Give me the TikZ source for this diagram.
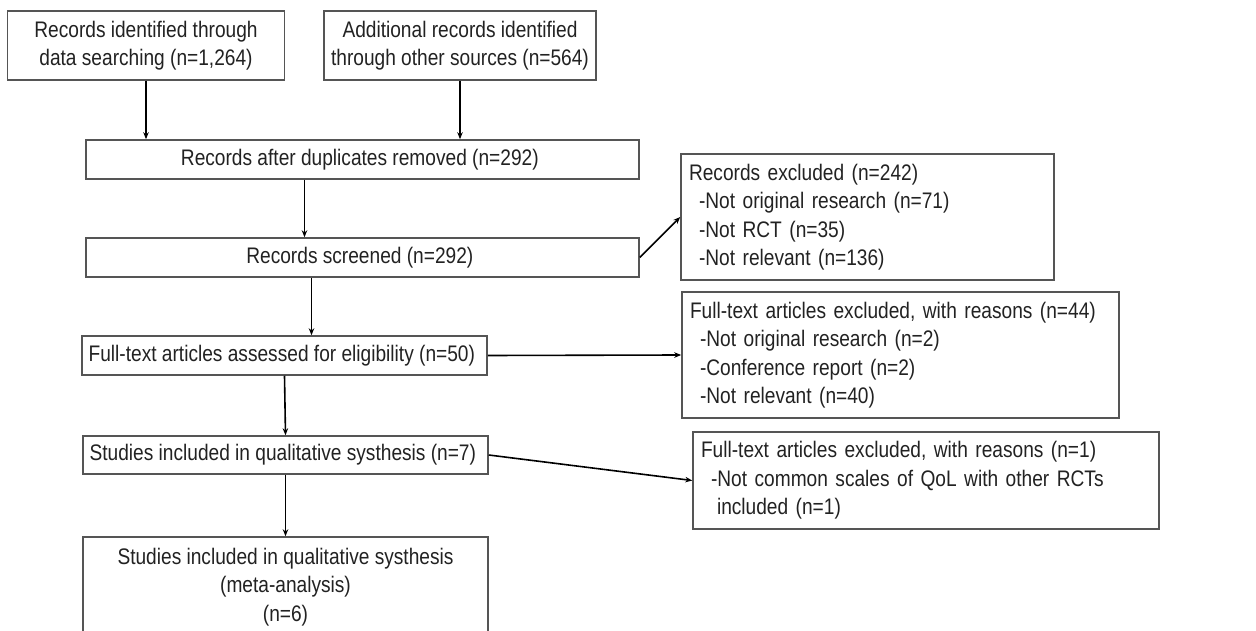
\documentclass[tikz,border=0pt]{standalone}
\usepackage{fontspec}
\setmainfont{Liberation Sans}[FakeStretch=0.85]
\usepackage{xcolor}
\usepackage{tikz}
\usetikzlibrary{arrows.meta,positioning,calc}
\definecolor{boxline}{HTML}{555555}
\definecolor{txtgray}{HTML}{222222}

\begin{document}
\begin{tikzpicture}[
  x=1pt, y=-1pt,
  box/.style={
    draw=boxline,
    line width=1.5pt,
    inner xsep=3pt,
    inner ysep=0pt,
    align=center,
    text=txtgray,
    font=\fontsize{22.5}{28.5}\selectfont
  },
  exbox/.style={box, align=left, inner xsep=8pt},
  arr/.style={-{Stealth[length=7pt,width=5.5pt]}, line width=1.6pt, draw=black}
]
\useasboundingbox (0,0) rectangle (1256,631);

\node[box, minimum width=277pt, minimum height=69pt] (ident) at (146, 45.5) {
  Records identified through\\
  data searching (n=1,264)
};

\node[box, minimum width=272pt, minimum height=69pt] (other) at (460, 45.5) {
  Additional records identified\\
  through other sources (n=564)
};

\node[box, minimum width=553pt, minimum height=39pt] (dupl) at (362.5, 159.5) {
  Records after duplicates removed (n=292)
};

\node[box, minimum width=553pt, minimum height=39pt] (screen) at (362.5, 257.5) {
  Records screened (n=292)
};

\node[exbox, text width=357pt, minimum height=126pt] (excl) at (867.5, 217) {
  Records excluded (n=242)\\
  \hspace*{10pt}-Not original research (n=71)\\
  \hspace*{10pt}-Not RCT (n=35)\\
  \hspace*{10pt}-Not relevant (n=136)
};

\node[box, minimum width=405pt, minimum height=39pt] (elig) at (284.5, 355.5) {
  Full-text articles assessed for eligibility (n=50)
};

\node[exbox, text width=421pt, minimum height=126pt] (ftexcl) at (900.5, 355) {
  Full-text articles excluded, with reasons (n=44)\\
  \hspace*{10pt}-Not original research (n=2)\\
  \hspace*{10pt}-Conference report (n=2)\\
  \hspace*{10pt}-Not relevant (n=40)
};

\node[box, minimum width=405pt, minimum height=38pt] (qual) at (285.5, 455) {
  Studies included in qualitative systhesis (n=7)
};

\node[exbox, text width=450pt, minimum height=97pt] (scales) at (926, 480.5) {
  Full-text articles excluded, with reasons (n=1)\\
  \hspace*{10pt}-Not common scales of QoL with other RCTs\\
  \hspace*{16pt}included (n=1)
};

\node[box, minimum width=405pt, minimum height=100pt] (meta) at (285.5, 587) {
  Studies included in qualitative systhesis\\
  (meta-analysis)\\
  (n=6)
};

\draw[arr] (ident.south) -- (ident.south |- dupl.north);
\draw[arr] (other.south) -- (other.south |- dupl.north);
\draw[arr] ([xshift=-58pt]dupl.south) -- ([xshift=-58pt]dupl.south |- screen.north);
\draw[arr] (screen.east) -- (excl.west);
\draw[arr] ([xshift=-51pt]screen.south) -- ([xshift=-51pt]screen.south |- elig.north);
\draw[arr] (elig.east) -- (ftexcl.west);
\draw[arr] (elig.south) -- (qual.north);
\draw[arr] (qual.east) -- (scales.west);
\draw[arr] (qual.south) -- (meta.north);

\end{tikzpicture}
\end{document}
